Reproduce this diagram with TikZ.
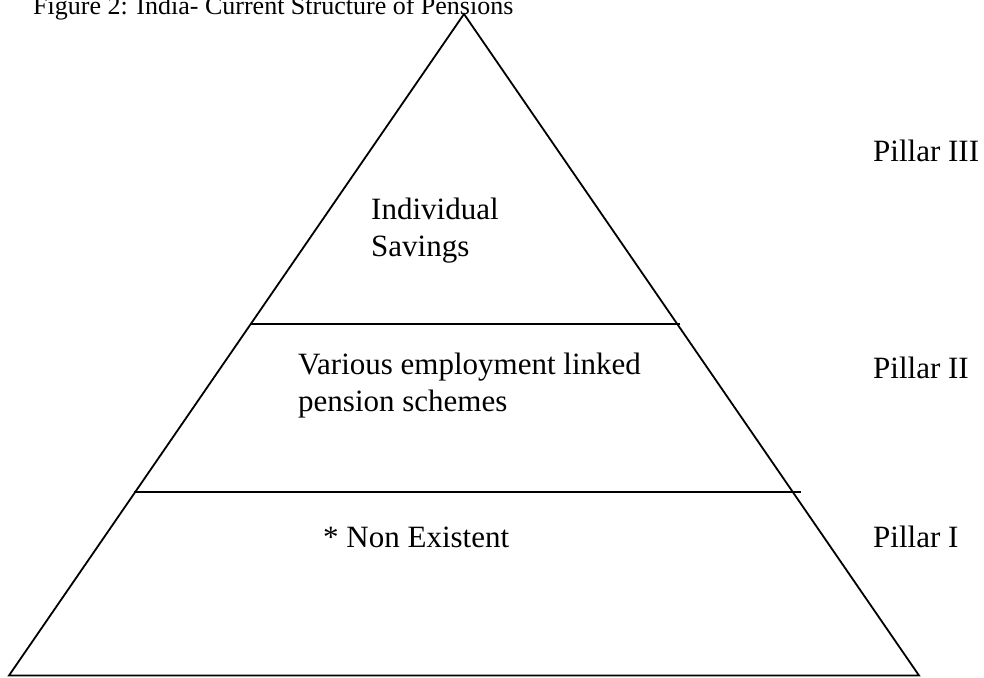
\documentclass[tikz,border=0pt]{standalone}
\usepackage{fontspec}
\setmainfont{Liberation Serif}
\begin{document}
\begin{tikzpicture}[x=1pt,y=-1pt,
  edge/.style={line width=1.8pt,black,line join=miter},
  lbl/.style={inner sep=0pt,anchor=base west,align=left,font=\fontsize{31}{37}\selectfont},
  ttl/.style={inner sep=0pt,anchor=base west,font=\fontsize{26}{30}\selectfont}]
  \useasboundingbox (0,0) rectangle (984,677);
  % pyramid outline
  \coordinate (apex) at (464,14);
  \coordinate (bl) at (9,675.5);
  \coordinate (br) at (919,675.5);
  \draw[edge] (bl) -- (apex) -- (br) -- cycle;
  % tier dividers
  \coordinate (t1l) at (250,324);
  \coordinate (t1r) at (680,324);
  \coordinate (t2l) at (134,492);
  \coordinate (t2r) at (801,492);
  \draw[edge] (t1l) -- (t1r);
  \draw[edge] (t2l) -- (t2r);
  % caption
  \node[ttl] (title) at (33,15) {Figure 2: India- Current Structure of Pensions};
  % tier contents (two-line labels sit on the lower line's baseline)
  \node[lbl] (top) at (371,256) {Individual\\Savings};
  \node[lbl] (mid) at (298,411) {Various employment linked\\pension schemes};
  \node[lbl] (low) at (323,547) {* Non Existent};
  % pillar labels
  \node[lbl] (p3) at (873,161) {Pillar III};
  \node[lbl] (p2) at (873,378) {Pillar II};
  \node[lbl] (p1) at (873,547) {Pillar I};
\end{tikzpicture}
\end{document}
